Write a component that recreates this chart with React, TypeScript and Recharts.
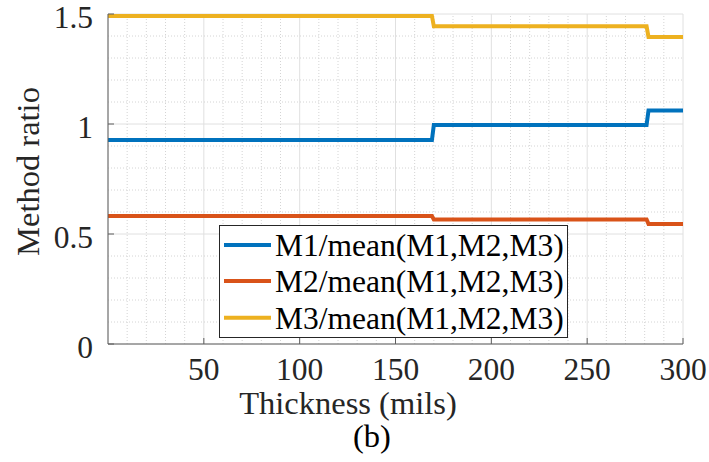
import React from "react";
import { LineChart, Line, XAxis, YAxis, CartesianGrid, ReferenceLine, Legend } from "recharts";

// Thickness breakpoints (mils) and the ratio of each method to the three-method mean
const thickness = [0, 169, 170, 281, 282, 300];
const m1Ratio = [0.927, 0.927, 0.996, 0.996, 1.061, 1.061];
const m2Ratio = [0.582, 0.582, 0.566, 0.566, 0.546, 0.546];
const m3Ratio = [1.491, 1.491, 1.444, 1.444, 1.396, 1.396];

const seriesNames = ["M1/mean(M1,M2,M3)", "M2/mean(M1,M2,M3)", "M3/mean(M1,M2,M3)"];
const seriesKeys = ["m1", "m2", "m3"];
const seriesColors = ["#0072BD", "#D95319", "#EDB120"];

const xTicks = [50, 100, 150, 200, 250, 300];
const yTicks = [0, 0.5, 1, 1.5];
const xMinor = [10, 20, 30, 40, 60, 70, 80, 90, 110, 120, 130, 140, 160, 170, 180, 190, 210, 220, 230, 240, 260, 270, 280, 290];
const yMinor = [0.1, 0.2, 0.3, 0.4, 0.6, 0.7, 0.8, 0.9, 1.1, 1.2, 1.3, 1.4];

const data = thickness.map((t, i) => ({ t, m1: m1Ratio[i], m2: m2Ratio[i], m3: m3Ratio[i] }));

const FONT =
  "'Times New Roman', Times, Tinos, 'Liberation Serif', 'Nimbus Roman', 'Noto Serif', 'DejaVu Serif', serif";
const AXIS = "#5e5e5e";
const TEXT = "#262626";
const TICK_LEN = 6;
const tickTxt = { fontFamily: FONT, fontSize: 31.5 };
const labelTxt = { fontFamily: FONT, fontSize: 32.5 };
const legendTxt = { fontFamily: FONT, fontSize: 31.5 };

const BottomTick = (p: any) => (
  <g>
    <line x1={p.x} y1={p.y} x2={p.x} y2={p.y - TICK_LEN} stroke={AXIS} strokeWidth={1} />
    <text x={p.x} y={p.y + 36} textAnchor="middle" style={tickTxt} fill={TEXT}>
      {String(p.payload.value)}
    </text>
  </g>
);

const TopTick = (p: any) => (
  <line x1={p.x} y1={p.y} x2={p.x} y2={p.y + TICK_LEN} stroke={AXIS} strokeWidth={1} />
);

const LeftTick = (p: any) => (
  <g>
    <line x1={p.x} y1={p.y} x2={p.x + TICK_LEN} y2={p.y} stroke={AXIS} strokeWidth={1} />
    <text x={p.x - 15} y={p.y + 14} textAnchor="end" style={tickTxt} fill={TEXT}>
      {String(p.payload.value)}
    </text>
  </g>
);

const RightTick = (p: any) => (
  <line x1={p.x} y1={p.y} x2={p.x - TICK_LEN} y2={p.y} stroke={AXIS} strokeWidth={1} />
);

const XLabels = (p: any) => {
  const vb = p.viewBox || { x: 108, y: 344 };
  return (
    <g>
      <text x={vb.x + 240} y={vb.y + 70} textAnchor="middle" style={labelTxt} fill={TEXT}>
        Thickness (mils)
      </text>
      <text x={vb.x + 264} y={vb.y + 103} textAnchor="middle" style={labelTxt} fill="#000">
        (b)
      </text>
    </g>
  );
};

const YLabel = (p: any) => {
  const vb = p.viewBox || { x: 0, y: 14 };
  const cx = vb.x + 39;
  const cy = vb.y + 157.5;
  return (
    <text x={cx} y={cy} transform={`rotate(-90 ${cx} ${cy})`} textAnchor="middle" style={labelTxt} fill={TEXT}>
      Method ratio
    </text>
  );
};

const LegendBox = () => {
  const rows = [20, 56, 92.7];
  return (
    <svg width={350} height={114} style={{ display: "block" }}>
      <rect x={0.5} y={0.5} width={348} height={112} fill="#fff" stroke={TEXT} strokeWidth={1} />
      {seriesNames.map((name, i) => (
        <g key={name}>
          <line x1={5} y1={rows[i]} x2={52} y2={rows[i]} stroke={seriesColors[i]} strokeWidth={4} />
          <text x={56} y={rows[i] + 11} style={legendTxt} fill="#000">
            {name}
          </text>
        </g>
      ))}
    </svg>
  );
};

export default function App() {
  return (
    <div style={{ position: "absolute", left: 0, top: 0, width: 709, height: 462, background: "#fff", fontFamily: FONT }}>
      <LineChart width={709} height={462} data={data} margin={{ top: 14, right: 26, bottom: 0, left: 0 }}>
        <CartesianGrid stroke="#e0e0e0" strokeWidth={1} />
        {xMinor.map((v) => (
          <ReferenceLine key={`mx${v}`} x={v} stroke="#d4d4d4" strokeDasharray="1 2" strokeWidth={1} />
        ))}
        {yMinor.map((v) => (
          <ReferenceLine key={`my${v}`} y={v} stroke="#d4d4d4" strokeDasharray="1 2" strokeWidth={1} />
        ))}
        <XAxis
          dataKey="t"
          type="number"
          domain={[0, 300]}
          ticks={xTicks}
          interval={0}
          height={118}
          tickSize={0}
          tickMargin={0}
          tick={<BottomTick />}
          axisLine={{ stroke: AXIS, strokeWidth: 1 }}
          tickLine={false}
          label={<XLabels />}
        />
        <XAxis
          xAxisId="top"
          orientation="top"
          dataKey="t"
          type="number"
          domain={[0, 300]}
          ticks={xTicks}
          interval={0}
          height={0}
          tickSize={0}
          tickMargin={0}
          tick={<TopTick />}
          axisLine={{ stroke: AXIS, strokeWidth: 1 }}
          tickLine={false}
        />
        <YAxis
          type="number"
          domain={[0, 1.5]}
          ticks={yTicks}
          interval={0}
          width={108}
          tickSize={0}
          tickMargin={0}
          tick={<LeftTick />}
          axisLine={{ stroke: AXIS, strokeWidth: 1 }}
          tickLine={false}
          label={<YLabel />}
        />
        <YAxis
          yAxisId="right"
          orientation="right"
          type="number"
          domain={[0, 1.5]}
          ticks={yTicks}
          interval={0}
          width={0}
          tickSize={0}
          tickMargin={0}
          tick={<RightTick />}
          axisLine={{ stroke: AXIS, strokeWidth: 1 }}
          tickLine={false}
        />
        {seriesKeys.map((k, i) => (
          <Line
            key={k}
            dataKey={k}
            name={seriesNames[i]}
            type="linear"
            stroke={seriesColors[i]}
            strokeWidth={4}
            dot={false}
            activeDot={false}
            isAnimationActive={false}
          />
        ))}
        <Legend
          layout="horizontal"
          verticalAlign="middle"
          align="center"
          content={<LegendBox />}
          wrapperStyle={{ position: "absolute", left: 219, top: 225, width: 350, height: 114 }}
        />
      </LineChart>
    </div>
  );
}
